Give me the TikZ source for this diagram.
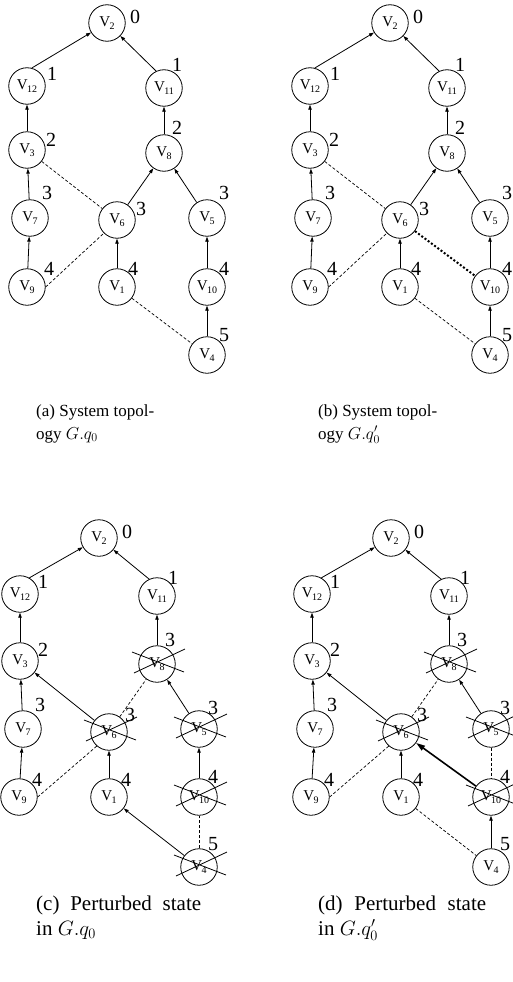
\documentclass[tikz,border=0pt]{standalone}
\usepackage{fontspec}
\setmainfont{Liberation Serif}
\usetikzlibrary{arrows.meta}

\tikzset{
  vert/.style={circle, draw, line width=0.8pt, minimum size=36.5pt, inner sep=0pt,
               font=\fontsize{15}{15}\selectfont},
  lvl/.style={inner sep=0pt, font=\fontsize{20}{20}\selectfont},
  tree/.style={line width=0.8pt, -{Triangle[length=5pt,width=3.4pt]}},
  alt/.style={line width=0.7pt, dash pattern=on 3pt off 2pt},
  newlink/.style={line width=2pt, dash pattern=on 2pt off 2pt},
  heavy/.style={line width=1.6pt, -{Triangle[length=9pt,width=5.5pt]}},
  crossline/.style={line width=0.8pt},
  caption/.style={align=left, anchor=base west, inner sep=0pt,
                  font=\fontsize{17}{23}\selectfont},
  bigcaption/.style={caption, font=\fontsize{21}{25}\selectfont}
}

% vertex name: V with a lowered index
\newcommand\vsub[1]{V\kern-0.5pt\raisebox{-2.5pt}{\fontsize{10}{10}\selectfont #1}}
% #1 name, #2 position, #3 index, #4 level, #5 offset of the level
\newcommand\gnode[5]{%
  \node[vert] (#1) at (#2) {\vsub{#3}};
  \node[lvl] (#1n) at ([shift={(#5)}]#1.center) {#4};}
% a failed vertex is struck out by two crossing lines
\newcommand\strike[1]{%
  \draw[crossline] ([shift={(-25,-12)}]#1.center) -- ([shift={(27,8)}]#1.center)
                   ([shift={(-23,9)}]#1.center) -- ([shift={(28,-15)}]#1.center);}

\begin{document}
\begin{tikzpicture}[x=1pt, y=-1pt]
\useasboundingbox (0,0) rectangle (513,982);

% ---------- (a) ----------
\gnode{a2}{107,23}{2}{0}{28,-6}
\gnode{a12}{27,86}{12}{1}{25,-12}
\gnode{a11}{164,88}{11}{1}{13,-23}
\gnode{a3}{27,150}{3}{2}{24,-10}
\gnode{a8}{164,153}{8}{2}{13,-25}
\gnode{a7}{30,218}{7}{3}{17,-25}
\gnode{a6}{117,220}{6}{3}{24,-11}
\gnode{a5}{207,218}{5}{3}{17,-25}
\gnode{a9}{27,287}{9}{4}{22,-18}
\gnode{a1}{117,287}{1}{4}{16,-18}
\gnode{a10}{207,287}{10}{4}{17,-18}
\gnode{a4}{207,355}{4}{5}{17,-20}
\draw[tree] (a12.75) -- (a2);
\draw[tree] (a11.115) -- (a2);
\draw[tree] (a3) -- (a12);
\draw[tree] (a8) -- (a11);
\draw[tree] (a7) -- (a3);
\draw[tree] (a6) -- (a8);
\draw[tree] (a5) -- (a8);
\draw[tree] (a9) -- (a7);
\draw[tree] (a1) -- (a6);
\draw[tree] (a10) -- (a5);
\draw[tree] (a4) -- (a10);
\draw[alt] (a3) -- (a6);
\draw[alt] (a9.east) -- (a6.225);
\draw[alt] (a1) -- (a4);
\node[caption] (capa) at (36,439) {(a) System topol-\\ogy $G.q_0$};

% ---------- (b) ----------
\gnode{b2}{390,23}{2}{0}{28,-6}
\gnode{b12}{310,86}{12}{1}{25,-12}
\gnode{b11}{447,88}{11}{1}{13,-23}
\gnode{b3}{310,150}{3}{2}{24,-10}
\gnode{b8}{447,153}{8}{2}{13,-25}
\gnode{b7}{313,218}{7}{3}{17,-25}
\gnode{b6}{400,220}{6}{3}{24,-11}
\gnode{b5}{490,218}{5}{3}{17,-25}
\gnode{b9}{310,287}{9}{4}{22,-18}
\gnode{b1}{400,287}{1}{4}{16,-18}
\gnode{b10}{490,287}{10}{4}{17,-18}
\gnode{b4}{490,355}{4}{5}{17,-20}
\draw[tree] (b12.75) -- (b2);
\draw[tree] (b11.115) -- (b2);
\draw[tree] (b3) -- (b12);
\draw[tree] (b8) -- (b11);
\draw[tree] (b7) -- (b3);
\draw[tree] (b6) -- (b8);
\draw[tree] (b5) -- (b8);
\draw[tree] (b9) -- (b7);
\draw[tree] (b1) -- (b6);
\draw[tree] (b10) -- (b5);
\draw[tree] (b4) -- (b10);
\draw[alt] (b3) -- (b6);
\draw[alt] (b9.east) -- (b6.225);
\draw[alt] (b1) -- (b4);
\draw[newlink] (b6) -- (b10);
\node[caption] (capb) at (318,439) {(b) System topol-\\ogy $G.q'_0$};

% ---------- (c) ----------
\gnode{c2}{99,538}{2}{0}{28,-6}
\gnode{c12}{20,594}{12}{1}{23,-12}
\gnode{c11}{157,596}{11}{1}{16,-18}
\gnode{c3}{20,661}{3}{2}{23,-11}
\gnode{c8}{157,664}{8}{3}{13,-24}
\gnode{c7}{23,729}{7}{3}{17,-24}
\gnode{c6}{109,732}{6}{3}{21,-17}
\gnode{c5}{199,729}{5}{3}{14,-21}
\gnode{c9}{19,797}{9}{4}{18,-17}
\gnode{c1}{109,797}{1}{4}{17,-17}
\gnode{c10}{199,797}{10}{4}{14,-20}
\gnode{c4}{199,867}{4}{5}{14,-23}
\draw[tree] (c12.60) -- (c2);
\draw[tree] (c11.115) -- (c2);
\draw[tree] (c3) -- (c12);
\draw[tree] (c8) -- (c11);
\draw[tree] (c7) -- (c3);
\draw[tree] (c6) -- (c3);
\draw[alt] (c6) -- (c8);
\draw[tree] (c5) -- (c8);
\draw[tree] (c9) -- (c7);
\draw[alt] (c9.east) -- (c6.229);
\draw[tree] (c1) -- (c6);
\draw[tree] (c10) -- (c5);
\draw[tree] (c4) -- (c1);
\draw[alt] (c4) -- (c10);
\strike{c8}\strike{c6}\strike{c5}\strike{c10}\strike{c4}
\node[bigcaption] (capc) at (36,935)
  {\makebox[165pt][s]{(c) Perturbed state}\\in $G.q_0$};

% ---------- (d) ----------
\gnode{d2}{391,538}{2}{0}{28,-6}
\gnode{d12}{312,594}{12}{1}{23,-12}
\gnode{d11}{449,596}{11}{1}{16,-18}
\gnode{d3}{312,661}{3}{2}{23,-11}
\gnode{d8}{449,664}{8}{3}{13,-24}
\gnode{d7}{315,729}{7}{3}{17,-24}
\gnode{d6}{401,732}{6}{3}{21,-17}
\gnode{d5}{491,729}{5}{3}{14,-21}
\gnode{d9}{311,797}{9}{4}{18,-17}
\gnode{d1}{401,797}{1}{4}{17,-17}
\gnode{d10}{491,797}{10}{4}{14,-20}
\gnode{d4}{491,867}{4}{5}{14,-23}
\draw[tree] (d12.60) -- (d2);
\draw[tree] (d11.115) -- (d2);
\draw[tree] (d3) -- (d12);
\draw[tree] (d8) -- (d11);
\draw[tree] (d7) -- (d3);
\draw[tree] (d6) -- (d3);
\draw[alt] (d6) -- (d8);
\draw[tree] (d5) -- (d8);
\draw[tree] (d9) -- (d7);
\draw[alt] (d9.east) -- (d6.229);
\draw[tree] (d1) -- (d6);
\draw[heavy] (d10) -- (d6);
\draw[alt] (d5) -- (d10);
\draw[tree] (d4) -- (d10);
\draw[alt] (d1) -- (d4);
\strike{d8}\strike{d6}\strike{d5}\strike{d10}
\node[bigcaption] (capd) at (318,935)
  {\makebox[168pt][s]{(d) Perturbed state}\\in $G.q'_0$};
\end{tikzpicture}
\end{document}
